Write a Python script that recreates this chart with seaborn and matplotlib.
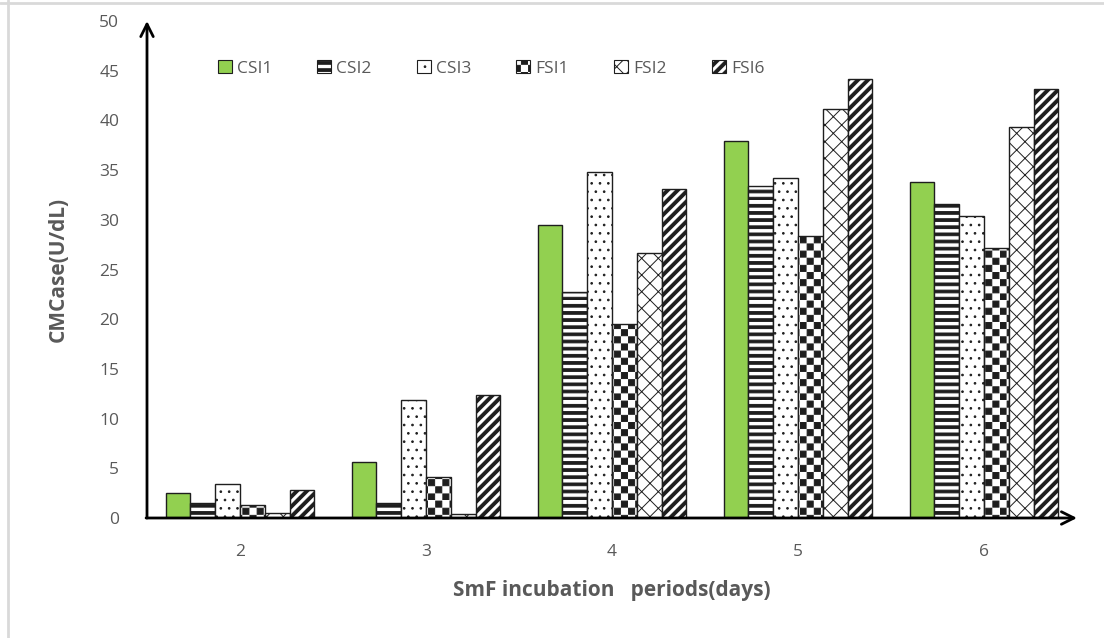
import numpy as np
import pandas as pd
import matplotlib
matplotlib.use("Agg")
import matplotlib.pyplot as plt
import matplotlib.hatch as mhatch
from matplotlib.path import Path
from matplotlib.patches import Patch
from matplotlib.lines import Line2D
import seaborn as sns

# ---------------- data ----------------
periods = ["2", "3", "4", "5", "6"]
series = ["CSI1", "CSI2", "CSI3", "FSI1", "FSI2", "FSI6"]
csi1 = [2.5, 5.6, 29.5, 37.9, 33.8]
csi2 = [1.5, 1.5, 22.7, 33.4, 31.6]
csi3 = [3.4, 11.9, 34.8, 34.2, 30.4]
fsi1 = [1.3, 4.1, 19.5, 28.4, 27.2]
fsi2 = [0.5, 0.4, 26.7, 41.1, 39.3]
fsi6 = [2.8, 12.4, 33.1, 44.2, 43.2]
yticks = [0, 5, 10, 15, 20, 25, 30, 35, 40, 45, 50]

values = [csi1, csi2, csi3, fsi1, fsi2, fsi6]
df = pd.DataFrame({
    "period": [p for _ in series for p in periods],
    "series": [s for s in series for _ in periods],
    "value": [v for vals in values for v in vals],
})

# ---------------- custom hatch patterns ----------------
_SQ_CODES = [Path.MOVETO, Path.LINETO, Path.LINETO, Path.LINETO, Path.CLOSEPOLY]


class _PolyHatch(mhatch.HatchPatternBase):
    char = "?"

    def __init__(self, hatch, density):
        self.polys = self.make() if hatch.count(self.char) > 0 else []
        self.num_vertices = 5 * len(self.polys)

    def make(self):
        return []

    def set_vertices_and_codes(self, vertices, codes):
        vertices[:] = np.concatenate([np.asarray(p, float) for p in self.polys])
        codes[:] = np.tile(_SQ_CODES, len(self.polys))


class Checker(_PolyHatch):
    char = "O"

    def make(self):
        n = 14
        s = 1.0 / n
        w = s * 0.85
        polys = []
        for i in range(n):
            for j in range(n):
                if (i + j) % 2 == 0:
                    x0, y0 = i * s, j * s
                    polys.append([(x0, y0), (x0 + w, y0), (x0 + w, y0 + w),
                                  (x0, y0 + w), (x0, y0)])
        return polys


class HStripes(_PolyHatch):
    char = "-"

    def make(self):
        n = 14
        s = 1.0 / n
        h = s * 0.38
        polys = []
        for j in range(n):
            y0 = j * s
            polys.append([(0, y0), (1, y0), (1, y0 + h), (0, y0 + h), (0, y0)])
        return polys


class ThickDiag(_PolyHatch):
    char = "*"

    def make(self):
        n = 10
        s = 1.0 / n
        w = s * 0.42
        polys = []
        for k in range(-n - 1, n + 1):
            b = k * s
            polys.append([(0, b), (1, b + 1), (1, b + 1 + w), (0, b + w), (0, b)])
        return polys


mhatch._hatch_types[:] = [
    HStripes,
    mhatch.VerticalHatch,
    mhatch.NorthEastHatch,
    mhatch.SouthEastHatch,
    mhatch.SmallCircles,
    Checker,
    mhatch.SmallFilledCircles,
    ThickDiag,
]

# ---------------- styling ----------------
sns.set_style("white")
plt.rcParams["font.family"] = ["Open Sans", "DejaVu Sans"]
plt.rcParams["hatch.linewidth"] = 0.7
plt.rcParams["hatch.color"] = "black"

colors = ["#92D050", "white", "white", "white", "white", "white"]
hatches = ["", "-", "..", "O", "xx", "*"]
edge = "#1e1e1e"
gray = "#595959"

fig = plt.figure(figsize=(11.04, 6.38), dpi=100)
ax = fig.add_axes([147 / 1104, 1 - 518 / 638, 930 / 1104, 497 / 638])

sns.barplot(data=df, x="period", y="value", hue="series", order=periods,
            hue_order=series, palette=colors, saturation=1, errorbar=None,
            width=0.8, legend=False, ax=ax, edgecolor=edge, linewidth=1.0)

for cont, h in zip(ax.containers, hatches):
    for bar in cont:
        bar.set_hatch(h)
        bar.set_edgecolor(edge)

ax.set_xlim(-0.5, 4.5)
ax.set_ylim(0, 50)
ax.set_yticks(yticks)
ax.set_yticklabels([str(t) for t in yticks])
ax.tick_params(axis="both", length=0, labelsize=12.5, colors=gray)
ax.tick_params(axis="y", pad=20)
ax.tick_params(axis="x", pad=19)
for sp in ax.spines.values():
    sp.set_visible(False)

ax.set_xlabel("SmF incubation   periods(days)", fontsize=15, fontweight="bold",
              color=gray, labelpad=14)
ax.set_ylabel("CMCase(U/dL)", fontsize=15, fontweight="bold", color=gray,
              labelpad=22)

# axis arrows
ax.annotate("", xy=(0, 1.0), xytext=(0, 0), xycoords="axes fraction",
            arrowprops=dict(arrowstyle="->,head_length=0.9,head_width=0.45",
                            lw=2.0, color="black", shrinkA=0, shrinkB=0))
ax.annotate("", xy=(1.0, 0), xytext=(-0.001, 0), xycoords="axes fraction",
            arrowprops=dict(arrowstyle="->,head_length=0.9,head_width=0.45",
                            lw=2.0, color="black", shrinkA=0, shrinkB=0))

# legend
handles = [Patch(facecolor=c, edgecolor=edge, hatch=h, linewidth=0.8)
           for c, h in zip(colors, hatches)]
ax.legend(handles, series, ncol=6, loc="center", bbox_to_anchor=(0.37, 0.905),
          frameon=False, fontsize=12.5, handlelength=0.8, handleheight=0.8,
          handletextpad=0.3, columnspacing=2.6, labelcolor=gray)

# light outer border lines
fig.add_artist(Line2D([0, 1], [1 - 3 / 638, 1 - 3 / 638], color="#d9d9d9",
                      lw=2, transform=fig.transFigure))
fig.add_artist(Line2D([8 / 1104, 8 / 1104], [0, 1], color="#d9d9d9",
                      lw=2, transform=fig.transFigure))

fig.savefig("out.png", dpi=100, facecolor="white")
